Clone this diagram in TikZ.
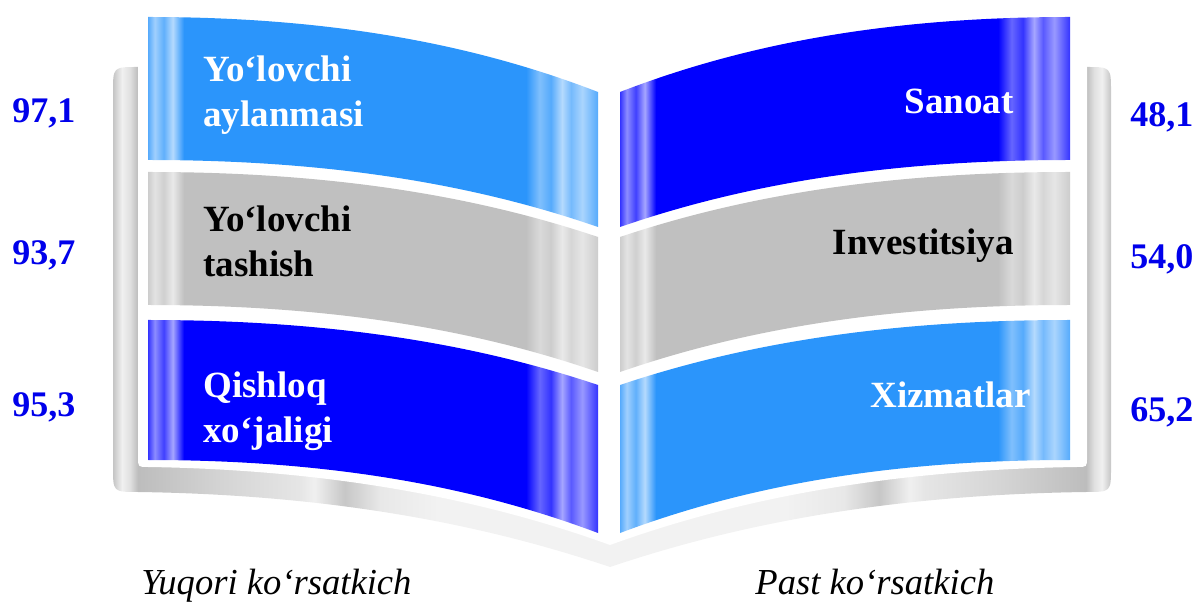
\documentclass[tikz,border=0pt]{standalone}
\usepackage{fontspec}
\setmainfont{Liberation Serif}

\definecolor{skyblue}{RGB}{43,149,251}
\definecolor{deepblue}{RGB}{0,0,255}
\definecolor{pagegray}{RGB}{192,192,192}
\definecolor{valueblue}{RGB}{0,0,235}

% glossy stripes near both edges of a panel
\newcommand{\glossshade}[2]{%
  \pgfdeclarehorizontalshading{#1}{100bp}{color(0bp)=(#2!80!white); color(25bp)=(#2!80!white);
    color(25.75bp)=(#2!45!white); color(26.75bp)=(#2!75!white); color(27.75bp)=(#2!35!white);
    color(29bp)=(#2); color(67bp)=(#2); color(68.5bp)=(#2!60!white); color(69.75bp)=(#2!80!white);
    color(71bp)=(#2!35!white); color(72bp)=(#2!65!white); color(73.25bp)=(#2!40!white);
    color(75bp)=(#2!80!white); color(100bp)=(#2!80!white)}}
\glossshade{skygloss}{skyblue}
\glossshade{deepgloss}{deepblue}
\glossshade{graygloss}{pagegray}

\pgfdeclarehorizontalshading{covershade}{100bp}{color(0bp)=(black!23); color(25bp)=(black!23);
  color(25.45bp)=(black!6); color(25.85bp)=(black!12); color(26.25bp)=(black!26);
  color(30.35bp)=(black!17); color(34.35bp)=(black!10); color(35.1bp)=(black!6);
  color(36.6bp)=(black!22); color(38.4bp)=(black!9); color(41.4bp)=(black!5);
  color(58.6bp)=(black!5); color(61.6bp)=(black!9); color(63.4bp)=(black!22);
  color(64.9bp)=(black!6); color(65.65bp)=(black!10); color(69.65bp)=(black!17);
  color(73.75bp)=(black!26); color(74.15bp)=(black!12); color(74.55bp)=(black!6);
  color(75bp)=(black!23); color(100bp)=(black!23)}

% #1 shading, #2 outer x, #3 inner x, #4/#5 top y (outer/inner), #6/#7 bottom y (outer/inner)
\newcommand{\bookpanel}[7]{%
  \shade[shading=#1] (#2,#4) .. controls ({#2+0.4*(#3-#2)},#4) and ({#2+0.72*(#3-#2)},{#4+0.35*(#5-#4)}) .. (#3,#5)
    -- (#3,#7) .. controls ({#2+0.72*(#3-#2)},{#6+0.35*(#7-#6)}) and ({#2+0.4*(#3-#2)},#6) .. (#2,#6) -- cycle;}

\begin{document}
\begin{tikzpicture}[x=0.5pt, y=-0.5pt,
  paneltext/.style={inner sep=0pt, align=left, font=\bfseries\fontsize{18.5}{22.5}\selectfont},
  valuetext/.style={inner sep=0pt, anchor=base west, text=valueblue, font=\bfseries\fontsize{18}{21.6}\selectfont},
  captiontext/.style={inner sep=0pt, anchor=base west, font=\itshape\fontsize{18.3}{22}\selectfont}]
\useasboundingbox (0,0) rectangle (1198,603);

% cover and white page block
\shade[shading=covershade] (138,67) .. controls (113,67) .. (113,92) -- (113,467) .. controls (113,492) .. (138,492)
  .. controls (350,495) and (500,530) .. (610,567) .. controls (720,530) and (870,495) .. (1086,492)
  .. controls (1111,492) .. (1111,467) -- (1111,92) .. controls (1111,67) .. (1086,67) -- cycle;
\fill[white] (138,60) -- (138,457) .. controls (138,467) .. (148,467)
  .. controls (350,470) and (500,505) .. (610,545) .. controls (720,505) and (870,470) .. (1077,467)
  .. controls (1087,467) .. (1087,457) -- (1087,60) -- cycle;

% left page
\bookpanel{skygloss}{148}{598}{17}{92}{160}{227}
\bookpanel{graygloss}{148}{598}{172}{237}{305}{372}
\bookpanel{deepgloss}{148}{598}{320}{385}{460}{533}
% right page
\bookpanel{deepgloss}{1070}{620}{17}{92}{160}{227}
\bookpanel{graygloss}{1070}{620}{172}{237}{305}{372}
\bookpanel{skygloss}{1070}{620}{320}{385}{460}{533}

\node[paneltext, anchor=base west, text=white] (yolaylan) at (203,127) {Yo‘lovchi\\aylanmasi};
\node[paneltext, anchor=base west] (yoltash) at (203,277) {Yo‘lovchi\\tashish};
\node[paneltext, anchor=base west, text=white] (qishloq) at (203,443) {Qishloq\\xo‘jaligi};
\node[paneltext, anchor=base east, text=white] (sanoat) at (1014,114) {Sanoat};
\node[paneltext, anchor=base east] (invest) at (1014,255) {Investitsiya};
\node[paneltext, anchor=base east, text=white] (xizmat) at (1031,408) {Xizmatlar};

\node[valuetext] (v971) at (12,123) {97,1};
\node[valuetext] (v937) at (12,265) {93,7};
\node[valuetext] (v953) at (12,417) {95,3};
\node[valuetext] (v481) at (1130,127) {48,1};
\node[valuetext] (v540) at (1130,269) {54,0};
\node[valuetext] (v652) at (1130,422) {65,2};

\node[captiontext] (yuqori) at (141,594) {Yuqori ko‘rsatkich};
\node[captiontext] (past) at (755,594) {Past ko‘rsatkich};
\end{tikzpicture}
\end{document}
